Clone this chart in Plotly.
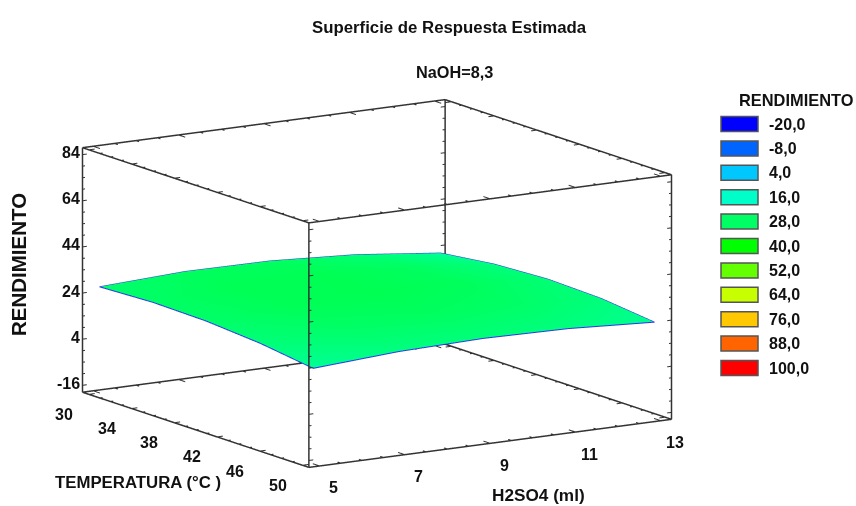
import numpy as np
import plotly.graph_objects as go

WIDTH, HEIGHT = 856, 506
FONT = "Liberation Sans"

h2so4 = [5, 7, 9, 11, 13]
temperatura = [30, 35, 40, 45, 50]
rendimiento = [
    [27.0, 28.7, 28.4, 26.2, 22.0],
    [27.95, 30.0, 30.1, 28.5, 24.9],
    [27.5, 29.7, 30.25, 29.1, 26.1],
    [25.65, 28.0, 28.7, 27.85, 25.4],
    [22.4, 24.75, 25.6, 24.95, 22.8],
]
h_ticks = [5, 7, 9, 11, 13]
t_ticks = [30, 34, 38, 42, 46, 50]
z_ticks = [-16, 4, 24, 44, 64, 84]
h_range = [4.75, 13.25]
t_range = [50.6, 29.4]
z_range = [-19, 87]

legend_labels = ["-20,0", "-8,0", "4,0", "16,0", "28,0", "40,0", "52,0", "64,0", "76,0", "88,0", "100,0"]
legend_levels = [-20, -8, 4, 16, 28, 40, 52, 64, 76, 88, 100]
legend_colors = ["#0000ff", "#0064ff", "#00c8ff", "#00ffc8", "#00ff64", "#00ff00",
                 "#64ff00", "#c8ff00", "#ffc800", "#ff6400", "#ff0000"]

colorscale = [[(v + 20) / 120, c] for v, c in zip(legend_levels, legend_colors)]

fig = go.Figure()
fig.add_trace(go.Surface(
    x=h2so4, y=temperatura, z=rendimiento, cmin=-20, cmax=100, colorscale=colorscale,
    showscale=False, hoverinfo="skip",
    lighting=dict(ambient=1, diffuse=0, specular=0, roughness=1, fresnel=0),
))

# blue outline of the surface
z = np.array(rendimiento)
n = len(h2so4)
ox, oy, oz = [], [], []
for i in range(n):
    ox.append(h2so4[i]); oy.append(temperatura[0]); oz.append(z[0, i])
for i in range(1, n):
    ox.append(h2so4[-1]); oy.append(temperatura[i]); oz.append(z[i, -1])
for i in range(n - 2, -1, -1):
    ox.append(h2so4[i]); oy.append(temperatura[-1]); oz.append(z[-1, i])
for i in range(n - 2, -1, -1):
    ox.append(h2so4[0]); oy.append(temperatura[i]); oz.append(z[i, 0])
fig.add_trace(go.Scatter3d(x=ox, y=oy, z=oz, mode="lines", line=dict(color="#3030f0", width=2),
                           hoverinfo="skip", showlegend=False))

# box edges
bx, by, bz = [], [], []
def seg(a, b):
    bx.extend([a[0], b[0], None]); by.extend([a[1], b[1], None]); bz.extend([a[2], b[2], None])
for p in h_range:
    for q in t_range:
        seg((p, q, z_range[0]), (p, q, z_range[1]))
for p in h_range:
    for r in z_range:
        seg((p, t_range[0], r), (p, t_range[1], r))
for q in t_range:
    for r in z_range:
        seg((h_range[0], q, r), (h_range[1], q, r))
fig.add_trace(go.Scatter3d(x=bx, y=by, z=bz, mode="lines", line=dict(color="#333333", width=3),
                           hoverinfo="skip", showlegend=False))

# small tick marks on every edge
tx, ty, tz = [], [], []
def tick(a, b):
    tx.extend([a[0], b[0], None]); ty.extend([a[1], b[1], None]); tz.extend([a[2], b[2], None])
dh = h_range[1] - h_range[0]
dt = t_range[1] - t_range[0]
h_minor = np.arange(5, 13.01, 0.5)
t_minor = np.arange(30, 50.01, 1.0)
z_minor = np.arange(-16, 84.01, 5.0)
for v in z_minor:
    f = 0.012 if v in z_ticks else 0.007
    for p, sp in zip(h_range, (1, -1)):
        for q in t_range:
            tick((p, q, v), (p + sp * f * dh, q, v))
for v in h_minor:
    f = 0.03 if v in h_ticks else 0.015
    for q, sq in zip(t_range, (1, -1)):
        for r in z_range:
            tick((v, q, r), (v, q + sq * f * dt, r))
for v in t_minor:
    f = 0.016 if v in t_ticks else 0.008
    for p, sp in zip(h_range, (1, -1)):
        for r in z_range:
            tick((p, v, r), (p + sp * f * dh, v, r))
fig.add_trace(go.Scatter3d(x=tx, y=ty, z=tz, mode="lines", line=dict(color="#333333", width=2),
                           hoverinfo="skip", showlegend=False))

tick_font = dict(family=FONT, size=16, color="#111111")
scene_ann = []
for v in z_ticks:
    scene_ann.append(dict(x=h_range[0], y=t_range[1], z=v, text="<b>%d</b>" % v, showarrow=False,
                          xanchor="right", yanchor="middle", xshift=0, yshift=2, font=tick_font))
for v in t_ticks:
    scene_ann.append(dict(x=h_range[0], y=v, z=z_range[0], text="<b>%d</b>" % v, showarrow=False,
                          xanchor="center", yanchor="middle", xshift=-25, yshift=-20, font=tick_font))
for v in h_ticks:
    scene_ann.append(dict(x=v, y=t_range[0], z=z_range[0], text="<b>%d</b>" % v, showarrow=False,
                          xanchor="center", yanchor="middle", xshift=14, yshift=-22, font=tick_font))

plain_axis = dict(showgrid=False, zeroline=False, showline=False, showticklabels=False,
                  ticks="", showbackground=False, showspikes=False, title=dict(text=""))

def px(x):
    return x / WIDTH
def py(y):
    return 1 - y / HEIGHT

ann = []
def label(x, y, text, size=14, anchor="center", angle=0):
    ann.append(dict(x=px(x), y=py(y), xref="paper", yref="paper", text=text, showarrow=False,
                    xanchor=anchor, yanchor="middle", textangle=angle,
                    font=dict(family=FONT, size=size, color="#111111")))

label(449, 27, "<b>Superficie de Respuesta Estimada</b>", 16.8)
label(454, 72, "<b>NaOH=8,3</b>", 16.3)
label(18, 265, "<b>RENDIMIENTO</b>", 20.5, angle=-90)
label(53, 482, "<b>TEMPERATURA (°C )</b>", 16.8, anchor="left")
label(490, 495, "<b>H2SO4 (ml)</b>", 17.2, anchor="left")
label(796, 100, "<b>RENDIMIENTO</b>", 16.4)

shapes = []
for i, (t, c) in enumerate(zip(legend_labels, legend_colors)):
    yc = 124 + 24.4 * i
    shapes.append(dict(type="rect", xref="paper", yref="paper", x0=px(721), x1=px(758),
                       y0=py(yc - 7.5), y1=py(yc + 7.5), fillcolor=c,
                       line=dict(color="#555555", width=1.5)))
    label(767, yc, "<b>%s</b>" % t, 16, anchor="left")

SCALE = 1.928
PAD = 0.01  # scene bounds sit just outside the box so its edges are not clipped
def padded(r):
    d = (r[1] - r[0]) * PAD
    return [r[0] - d, r[1] + d]
grow = 1 + 2 * PAD

fig.update_layout(
    width=WIDTH, height=HEIGHT, autosize=False, paper_bgcolor="white",
    margin=dict(l=0, r=0, t=0, b=0), showlegend=False,
    annotations=ann, shapes=shapes,
    scene=dict(
        domain=dict(x=[0, 754 / WIDTH], y=[0, 445 / HEIGHT]),
        xaxis=dict(range=padded(h_range), **plain_axis),
        yaxis=dict(range=padded(t_range), **plain_axis),
        zaxis=dict(range=padded(z_range), **plain_axis),
        aspectmode="manual",
        aspectratio=dict(x=1.0 * SCALE * grow, y=0.988 * SCALE * grow, z=0.583 * SCALE * grow),
        camera=dict(eye=dict(x=-0.5224 * 2, y=-0.8265 * 2, z=0.2098 * 2),
                    center=dict(x=0, y=0, z=0), up=dict(x=0, y=0, z=1),
                    projection=dict(type="orthographic")),
        annotations=scene_ann,
    ),
)
fig.write_html("out.html", post_script="document.body.style.margin='0';", config=dict(displayModeBar=False))
